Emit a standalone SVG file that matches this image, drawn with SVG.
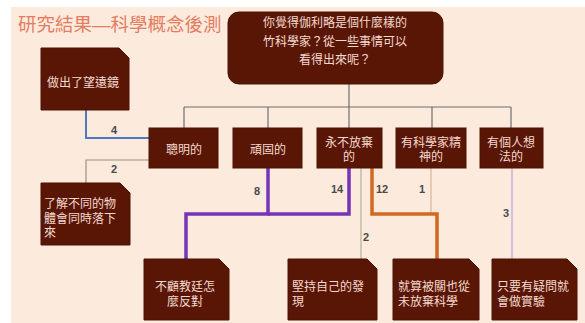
<svg xmlns="http://www.w3.org/2000/svg" width="585" height="323" viewBox="0 0 585 323">
<style>
.node{fill:#5a1605;stroke:#4a1206;stroke-width:1}
.t{font-family:"Liberation Sans","Noto Sans CJK TC","Noto Sans CJK SC",sans-serif;fill:#f3d9cf;font-size:12px;dominant-baseline:central}
.c{text-anchor:middle}
.lbl{font-family:"Liberation Sans","DejaVu Sans",sans-serif;font-size:11px;fill:#4a4a4a;text-anchor:middle;dominant-baseline:central;font-weight:bold}
.thin{fill:none;stroke-width:1.2}
.thick{fill:none;stroke-width:3.5}
</style>
<rect x="0" y="0" width="585" height="323" fill="#ffffff"/>
<rect x="11" y="7" width="574" height="316" fill="#fcebdd"/>
<text x="18" y="24" font-family="Liberation Sans,Noto Sans CJK TC,Noto Sans CJK SC,sans-serif" font-size="18.5" fill="#e47c62" dominant-baseline="central">研究結果—科學概念後測</text>

<g id="connectors">
  <path class="thin" stroke="#6e6e6e" d="M349,84 V107 M184,107 H511 M184,107 V128 M268,107 V128 M349,107 V128 M432,107 V128 M511,107 V128"/>
  <path fill="none" stroke="#4f76c8" stroke-width="2" d="M149,138 H86 V110"/>
  <path class="thin" stroke="#9a9080" d="M149,160 H86 V183"/>
  <path class="thick" stroke="#7435b8" d="M268,168 V214 H186 V259"/>
  <path class="thick" stroke="#7435b8" d="M349,168 V214 H268"/>
  <path class="thin" stroke="#a9b894" d="M361,168 V259"/>
  <path class="thin" stroke="#dcb391" d="M431,168 V214"/>
  <path class="thick" stroke="#d06a22" d="M372,168 V214 H437 V259"/>
  <path class="thin" stroke="#b9a3d6" d="M512,168 V260"/>
  <text class="lbl" x="114" y="130">4</text>
  <text class="lbl" x="114" y="169">2</text>
  <text class="lbl" x="257" y="191">8</text>
  <text class="lbl" x="337" y="189">14</text>
  <text class="lbl" x="382" y="189">12</text>
  <text class="lbl" x="422" y="189">1</text>
  <text class="lbl" x="366" y="237">2</text>
  <text class="lbl" x="506" y="213">3</text>
</g>

<g id="root">
  <rect class="node" x="228" y="12" width="215" height="72" rx="11"/>
  <text class="t c" x="335" y="23" font-size="15.5">你覺得伽利略是個什麼樣的</text>
  <text class="t c" x="335" y="42" font-size="15.5">竹科學家？從一些事情可以</text>
  <text class="t c" x="335" y="60" font-size="15.5">看得出來呢？</text>
</g>

<g id="n-smart">
  <rect class="node" x="149" y="128" width="69" height="40"/>
  <text class="t c" x="184" y="150">聰明的</text>
</g>
<g id="n-stubborn">
  <rect class="node" x="233" y="128" width="69" height="40"/>
  <text class="t c" x="268" y="150">頑固的</text>
</g>
<g id="n-never">
  <rect class="node" x="317" y="128" width="65" height="40"/>
  <text class="t c" x="349" y="143">永不放棄</text>
  <text class="t c" x="349" y="157">的</text>
</g>
<g id="n-spirit">
  <rect class="node" x="396" y="128" width="70" height="40"/>
  <text class="t c" x="431" y="143">有科學家精</text>
  <text class="t c" x="431" y="157">神的</text>
</g>
<g id="n-own">
  <rect class="node" x="480" y="128" width="63" height="40"/>
  <text class="t c" x="511" y="143">有個人想</text>
  <text class="t c" x="511" y="157">法的</text>
</g>

<g id="n-telescope">
  <path class="node" d="M41,48 H119 L129,58 V110 H41 Z"/>
  <text class="t c" x="83" y="83">做出了望遠鏡</text>
</g>
<g id="n-fall">
  <path class="node" d="M41,183 H120 L130,193 V245 H41 Z"/>
  <text class="t" x="44" y="204">了解不同的物</text>
  <text class="t" x="44" y="219">體會同時落下</text>
  <text class="t" x="44" y="233">來</text>
</g>
<g id="n-church">
  <path class="node" d="M144,259 H219 L229,269 V320 H144 Z"/>
  <text class="t c" x="185" y="287">不顧教廷怎</text>
  <text class="t c" x="185" y="302">麼反對</text>
</g>
<g id="n-persist">
  <path class="node" d="M288,259 H367 L377,269 V320 H288 Z"/>
  <text class="t" x="292" y="287">堅持自己的發</text>
  <text class="t" x="292" y="302">現</text>
</g>
<g id="n-jailed">
  <path class="node" d="M393,259 H469 L479,269 V320 H393 Z"/>
  <text class="t" x="398" y="287">就算被關也從</text>
  <text class="t" x="398" y="302">未放棄科學</text>
</g>
<g id="n-experiment">
  <path class="node" d="M492,259 H567 L577,269 V320 H492 Z"/>
  <text class="t" x="497" y="287">只要有疑問就</text>
  <text class="t" x="497" y="302">會做實驗</text>
</g>
</svg>
